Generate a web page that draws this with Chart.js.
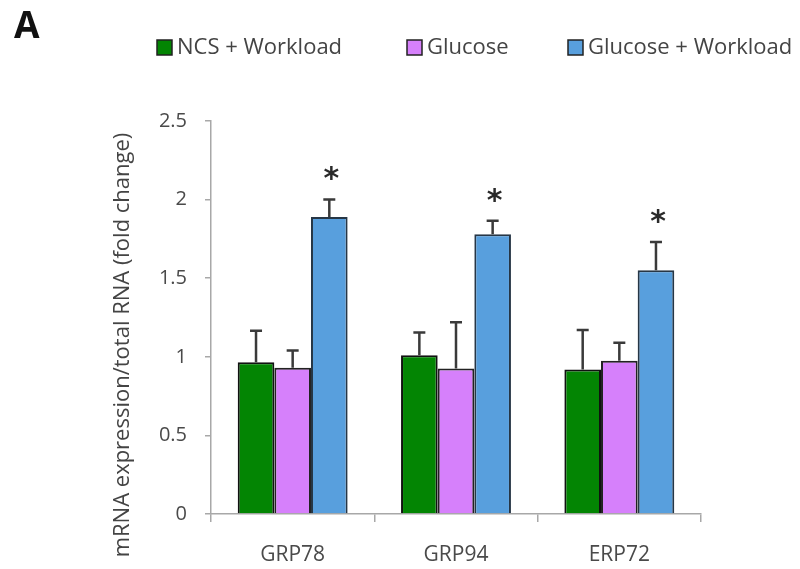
<!DOCTYPE html>
<html>
<head>
<meta charset="utf-8">
<script src="https://cdn.jsdelivr.net/npm/chart.js@4.4.0/dist/chart.umd.min.js"></script>
<style>
  html, body { margin: 0; padding: 0; background: #fff; }
  #wrap { width: 800px; height: 569px; }
</style>
</head>
<body>
<div id="wrap"><canvas id="mychart"></canvas></div>
<script>
// values
var genes = ['GRP78', 'GRP94', 'ERP72'];
var seriesNames = ['NCS + Workload', 'Glucose', 'Glucose + Workload'];
var ncsWorkload = [0.965, 1.01, 0.92];
var ncsWorkloadErr = [0.2, 0.145, 0.25];
var glucose = [0.93, 0.925, 0.975];
var glucoseErr = [0.11, 0.295, 0.115];
var glucoseWorkload = [1.89, 1.78, 1.55];
var glucoseWorkloadErr = [0.11, 0.085, 0.18];
var significant = [true, true, true]; // asterisk over Glucose + Workload
var yTicks = [0, 0.5, 1, 1.5, 2, 2.5];

var errors = [ncsWorkloadErr, glucoseErr, glucoseWorkloadErr];
var FONT = "'Open Sans', sans-serif";

// error bars (upper only) and asterisks
var errorBars = {
  id: 'errorBars',
  afterDatasetsDraw: function(chart) {
    var ctx = chart.ctx;
    var y = chart.scales.y;
    ctx.save();
    chart.data.datasets.forEach(function(ds, i) {
      var meta = chart.getDatasetMeta(i);
      meta.data.forEach(function(bar, j) {
        var top = y.getPixelForValue(ds.data[j] + errors[i][j]);
        ctx.strokeStyle = '#3a3a3a';
        ctx.lineWidth = 2.5;
        ctx.beginPath();
        ctx.moveTo(bar.x, bar.y);
        ctx.lineTo(bar.x, top);
        ctx.moveTo(bar.x - 6, top);
        ctx.lineTo(bar.x + 6, top);
        ctx.stroke();
        if (i === 2 && significant[j]) {
          ctx.fillStyle = '#2a2a2a';
          ctx.font = "bold 30px 'DejaVu Sans', sans-serif";
          ctx.textAlign = 'center';
          ctx.textBaseline = 'middle';
          ctx.fillText('*', bar.x + 2, top - 19);
        }
      });
    });
    ctx.restore();
  }
};

// panel letter, legend row and y title
var extras = {
  id: 'extras',
  afterDraw: function(chart) {
    var ctx = chart.ctx;
    ctx.save();
    ctx.fillStyle = '#111';
    ctx.font = "bold 37px " + FONT;
    ctx.textAlign = 'left';
    ctx.textBaseline = 'alphabetic';
    ctx.fillText('A', 14, 38);

    var boxX = [157, 407, 568];
    chart.data.datasets.forEach(function(ds, i) {
      ctx.fillStyle = ds.backgroundColor;
      ctx.fillRect(boxX[i], 40, 15, 15);
      ctx.strokeStyle = '#222';
      ctx.lineWidth = 1.5;
      ctx.strokeRect(boxX[i], 40, 15, 15);
      ctx.fillStyle = '#444';
      ctx.font = "22px " + FONT;
      ctx.textBaseline = 'middle';
      ctx.fillText(ds.label, boxX[i] + 20, 48);
    });

    ctx.translate(123, 345);
    ctx.rotate(-Math.PI / 2);
    ctx.textAlign = 'center';
    ctx.textBaseline = 'middle';
    ctx.fillStyle = '#444';
    ctx.font = "22px " + FONT;
    ctx.fillText('mRNA expression/total RNA (fold change)', 0, 0);
    ctx.restore();
  }
};

var chartdata = {
  labels: genes,
  datasets: [
    { label: seriesNames[0], data: ncsWorkload, backgroundColor: '#038503', borderColor: '#111', borderWidth: 2 },
    { label: seriesNames[1], data: glucose, backgroundColor: '#d680fb', borderColor: '#222', borderWidth: 2 },
    { label: seriesNames[2], data: glucoseWorkload, backgroundColor: '#589fdd', borderColor: '#263646', borderWidth: 2 }
  ]
};

var ctx = document.getElementById('mychart');

var barGraph = new Chart(ctx, {
  type: 'bar',
  data: chartdata,
  plugins: [errorBars, extras],
  options: {
    responsive: true,
    maintainAspectRatio: false,
    animation: false,
    layout: { padding: { top: 121, right: 99, bottom: 0, left: 0 } },
    datasets: { bar: { categoryPercentage: 0.673, barPercentage: 1.0 } },
    plugins: {
      legend: { display: false },
      tooltip: { enabled: false }
    },
    scales: {
      x: {
        grid: { offset: true, drawOnChartArea: false, color: '#a8a8a8', lineWidth: 1.5, tickLength: 8 },
        border: { color: '#a8a8a8', width: 1.5 },
        ticks: { color: '#4a4a4a', font: { family: FONT, size: 21 }, padding: 20 },
        afterFit: function(scale) { scale.height = 55; }
      },
      y: {
        min: 0,
        max: 2.5,
        afterBuildTicks: function(scale) {
          scale.ticks = yTicks.map(function(v) { return { value: v }; });
        },
        grid: { drawOnChartArea: false, color: '#a8a8a8', lineWidth: 1.5, tickLength: 6 },
        border: { color: '#a8a8a8', width: 1.5 },
        ticks: {
          color: '#4a4a4a',
          font: { family: FONT, size: 20 },
          padding: 18,
          callback: function(v) { return String(v); }
        },
        afterFit: function(scale) { scale.width = 211; }
      }
    }
  }
});
</script>
</body>
</html>
